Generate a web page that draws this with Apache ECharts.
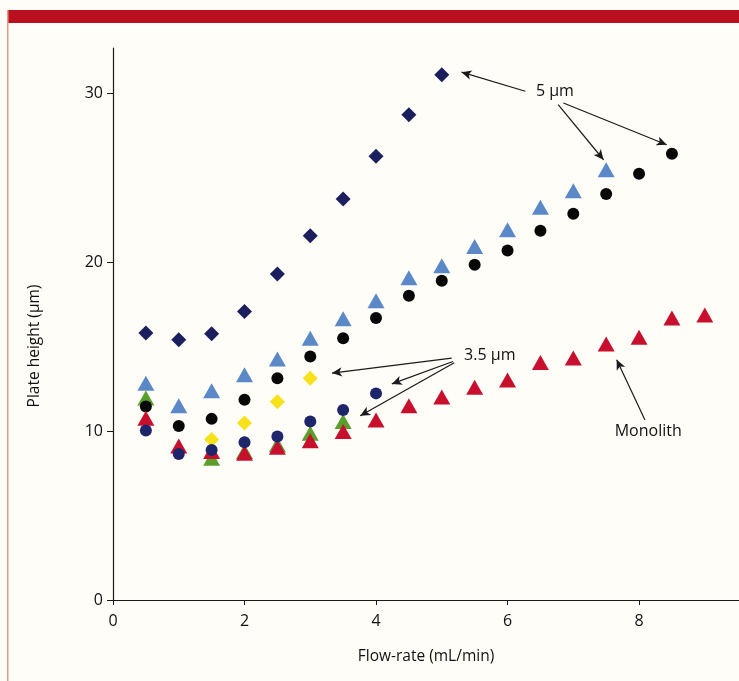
<!DOCTYPE html>
<html>
<head>
<meta charset="utf-8">
<script src="https://cdn.jsdelivr.net/npm/echarts@6/dist/echarts.min.js"></script>
<style>html,body{margin:0;padding:0;background:#fffdf7;}#c{width:739px;height:681px;}</style>
</head>
<body>
<div id="c"></div>
<script>
// ---- data ----
const diamond5X = [0.5, 1, 1.5, 2, 2.5, 3, 3.5, 4, 4.5, 5];
const diamond5Y = [15.81, 15.41, 15.77, 17.09, 19.31, 21.58, 23.75, 26.28, 28.75, 31.12];

const triBlue5X = [0.5, 1, 1.5, 2, 2.5, 3, 3.5, 4, 4.5, 5, 5.5, 6, 6.5, 7, 7.5];
const triBlue5Y = [12.84, 11.50, 12.39, 13.34, 14.27, 15.51, 16.66, 17.72, 19.09, 19.80, 20.94, 21.93, 23.26, 24.24, 25.49];

const circBlack5X = [0.5, 1, 1.5, 2, 2.5, 3, 3.5, 4, 4.5, 5, 5.5, 6, 6.5, 7, 7.5, 8, 8.5];
const circBlack5Y = [11.46, 10.31, 10.73, 11.86, 13.14, 14.42, 15.51, 16.70, 18.02, 18.91, 19.86, 20.71, 21.87, 22.88, 24.05, 25.25, 26.44];

const diamondYel35X = [1.5, 2, 2.5, 3];
const diamondYel35Y = [9.51, 10.49, 11.75, 13.14];

const triGreen35X = [0.5, 1.5, 2, 2.5, 3, 3.5];
const triGreen35Y = [11.97, 8.40, 8.80, 9.19, 9.88, 10.57];

const triRedMonoX = [0.5, 1, 1.5, 2, 2.5, 3, 3.5, 4, 4.5, 5, 5.5, 6, 6.5, 7, 7.5, 8, 8.5, 9];
const triRedMonoY = [10.77, 9.13, 8.79, 8.70, 9.05, 9.44, 9.98, 10.67, 11.50, 12.02, 12.61, 13.04, 14.07, 14.33, 15.17, 15.57, 16.70, 16.89];

const circNavy35X = [0.5, 1, 1.5, 2, 2.5, 3, 3.5, 4];
const circNavy35Y = [10.04, 8.65, 8.89, 9.35, 9.68, 10.57, 11.26, 12.24];

const xTicks = [0, 2, 4, 6, 8];
const yTicks = [0, 10, 20, 30];

// annotation labels [x, y, text]
const noteLabels = [
  [6.72, 30.11, '5 \u00b5m'],
  [5.73, 14.46, '3.5 \u00b5m'],
  [8.14, 9.96, 'Monolith']
];
// arrows [x1, y1, x2, y2] (head at second point)
const noteArrows = [
  [6.27, 30.14, 5.30, 31.27],
  [6.77, 29.34, 7.46, 26.08],
  [6.85, 29.44, 8.42, 26.97],
  [5.15, 14.33, 3.33, 13.44],
  [5.17, 14.13, 4.24, 12.80],
  [5.19, 14.05, 3.76, 10.91],
  [8.09, 10.67, 7.66, 14.23]
];

const zip = (xs, ys) => xs.map((x, i) => [x, ys[i]]);
const FONT = 'Open Sans';
const TXT = '#111111';

const chart = echarts.init(document.getElementById('c'), null, {renderer: 'canvas'});

function sc(name, xs, ys, symbol, size, color, z) {
  return {
    name: name, type: 'scatter', data: zip(xs, ys), symbol: symbol, symbolSize: size,
    itemStyle: {color: color, opacity: 1}, z: z, animation: false,
    emphasis: {disabled: true}
  };
}

chart.setOption({
  backgroundColor: '#fffdf7',
  animation: false,
  grid: {left: 113, right: 0, top: 48, bottom: 81, containLabel: false},
  xAxis: {
    type: 'value', min: 0, max: 9.52, interval: 2,
    axisLine: {show: true, lineStyle: {color: '#1a1a1a', width: 1.2}},
    axisTick: {show: true, length: 5, customValues: xTicks, lineStyle: {color: '#1a1a1a'}},
    axisLabel: {customValues: xTicks, color: TXT, fontFamily: FONT, fontSize: 16, margin: 13},
    splitLine: {show: false},
    name: 'Flow-rate (mL/min)', nameLocation: 'middle', nameGap: 49,
    nameTextStyle: {color: TXT, fontFamily: FONT, fontSize: 15.5}
  },
  yAxis: {
    type: 'value', min: 0, max: 32.7, interval: 10,
    axisLine: {show: true, onZero: false, lineStyle: {color: '#1a1a1a', width: 1.2}},
    axisTick: {show: true, length: 6, customValues: yTicks, lineStyle: {color: '#1a1a1a'}},
    axisLabel: {customValues: yTicks, color: TXT, fontFamily: FONT, fontSize: 16, margin: 10},
    splitLine: {show: false}
  },
  graphic: [
    {type: 'rect', shape: {x: 7, y: 10, width: 732, height: 13}, style: {fill: '#b8101f'}, silent: true},
    {type: 'rect', shape: {x: 7, y: 10, width: 1.5, height: 671}, style: {fill: '#e49a82'}, silent: true},
    {type: 'text', x: 35, y: 346, rotation: Math.PI / 2,
     style: {text: 'Plate height (\u00b5m)', fill: TXT, font: '15.5px "' + FONT + '"', align: 'center', verticalAlign: 'middle'}, silent: true}
  ],
  series: [
    sc('5 µm diamond', diamond5X, diamond5Y, 'diamond', [15, 15], '#1b1f5e', 3),
    sc('5 µm triangle', triBlue5X, triBlue5Y, 'triangle', [17, 15], '#5b89c7', 3),
    sc('3.5 µm green', triGreen35X, triGreen35Y, 'triangle', [17, 15], '#5a9e2c', 3),
    sc('5 µm circle', circBlack5X, circBlack5Y, 'circle', 12, '#080808', 4),
    sc('3.5 µm yellow', diamondYel35X, diamondYel35Y, 'diamond', [15, 15], '#f6e11a', 4),
    sc('Monolith', triRedMonoX, triRedMonoY, 'triangle', [17, 15], '#c8102e', 5),
    sc('3.5 µm navy', circNavy35X, circNavy35Y, 'circle', 12, '#1d266a', 6),
    {
      name: 'notes', type: 'scatter', data: noteLabels, symbolSize: 0, silent: true, z: 8,
      itemStyle: {opacity: 1},
      label: {show: true, position: 'inside', formatter: p => p.data[2], color: TXT, fontFamily: FONT, fontSize: 16},
      markLine: {
        silent: true, animation: false, symbol: ['none', 'arrow'], symbolSize: [7, 10],
        lineStyle: {color: '#1a1a1a', width: 1.2, type: 'solid', opacity: 1},
        label: {show: false}, emphasis: {disabled: true},
        data: noteArrows.map(a => [{coord: [a[0], a[1]]}, {coord: [a[2], a[3]]}])
      }
    }
  ]
});
</script>
</body>
</html>
